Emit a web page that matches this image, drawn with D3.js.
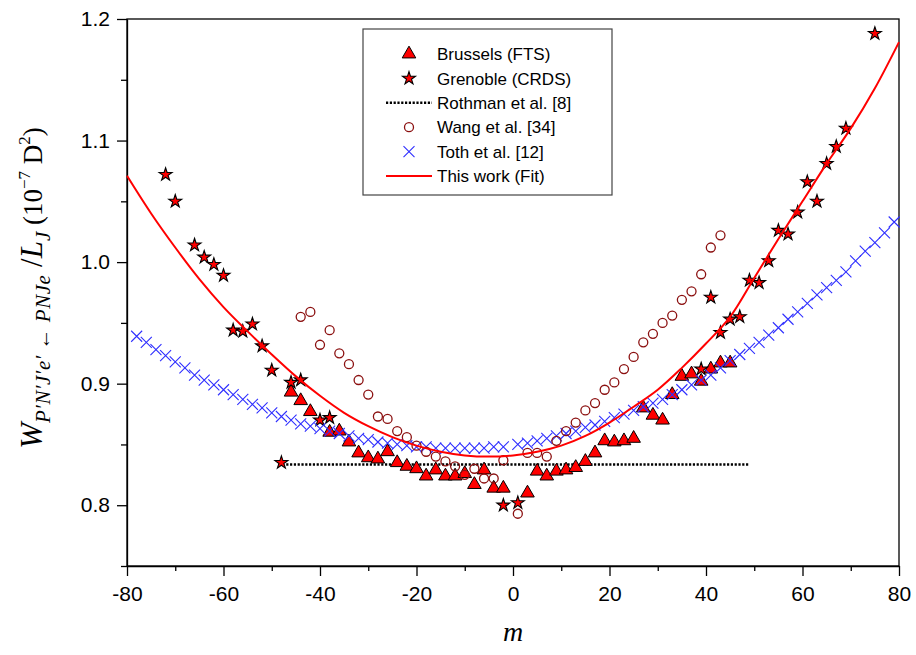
<!DOCTYPE html>
<html>
<head>
<meta charset="utf-8">
<script src="https://cdn.jsdelivr.net/npm/d3@7"></script>
<style>
  body { margin: 0; background: #fff; }
  .tick text { font-family: "Liberation Sans", Arial, sans-serif; font-size: 21px; fill: #000; }
  .domain, .tick line { stroke: #000; stroke-width: 1.3px; }
  .legend text { font-family: "Liberation Sans", Arial, sans-serif; font-size: 17px; }
</style>
</head>
<body>
<svg id="chart" width="916" height="655"></svg>
<script>
// Brussels (FTS)
var brusselsM = [-46,-44,-42,-38,-36,-34,-32,-30,-28,-26,-24,-22,-20,-18,-16,-14,-12,-10,-8,-6,-4,-2,
  3,5,7,9,11,13,15,17,19,21,23,25,27,29,31,33,35,37,39,41,43,45];
var brusselsW = [0.893,0.886,0.877,0.860,0.861,0.852,0.843,0.839,0.838,0.844,0.835,0.832,0.830,0.824,0.829,0.824,0.824,0.826,0.817,0.829,0.814,0.814,
  0.810,0.828,0.824,0.828,0.829,0.831,0.836,0.843,0.853,0.852,0.853,0.855,0.880,0.874,0.870,0.891,0.906,0.908,0.902,0.912,0.917,0.917];

// Grenoble (CRDS)
var grenobleM = [-72,-70,-66,-64,-62,-60,-58,-56,-54,-52,-50,-48,-46,-44,-40,-38,-2,1,
  39,41,43,45,47,49,51,53,55,57,59,61,63,65,67,69,75];
var grenobleW = [1.072,1.050,1.014,1.004,0.998,0.989,0.944,0.943,0.949,0.931,0.911,0.835,0.901,0.903,0.870,0.872,0.800,0.802,
  0.912,0.971,0.942,0.953,0.955,0.985,0.983,1.001,1.026,1.023,1.041,1.066,1.050,1.081,1.095,1.110,1.188];

// Rothman et al. [8]
var rothmanM = [-47, 49];
var rothmanW = [0.8335, 0.8335];

// Wang et al. [34]
var wangM = [-44,-42,-40,-38,-36,-34,-32,-30,-28,-26,-24,-22,-20,-18,-16,-14,-12,-10,-8,-6,-4,-2,1,
  3,5,7,9,11,13,15,17,19,21,23,25,27,29,31,33,35,37,39,41,43];
var wangW = [0.955,0.959,0.932,0.944,0.925,0.916,0.903,0.891,0.873,0.871,0.861,0.856,0.849,0.844,0.840,0.836,0.832,0.825,0.830,0.822,0.822,0.837,0.793,
  0.843,0.843,0.840,0.853,0.861,0.868,0.878,0.884,0.895,0.901,0.912,0.922,0.934,0.941,0.950,0.956,0.969,0.976,0.990,1.012,1.022];

// Toth et al. [12]
var tothM = [-78,-76,-74,-72,-70,-68,-66,-64,-62,-60,-58,-56,-54,-52,-50,-48,-46,-44,-42,-40,
  -38,-36,-34,-32,-30,-28,-26,-24,-22,-20,-18,-16,-14,-12,-10,-8,-6,-4,-2,
  1,3,5,7,9,11,13,15,17,19,21,23,25,27,29,31,33,35,37,39,
  41,43,45,47,49,51,53,55,57,59,61,63,65,67,69,71,73,75,77,79];
var tothW = [0.939,0.934,0.928,0.923,0.918,0.913,0.907,0.903,0.899,0.895,0.891,0.887,0.883,0.880,0.876,0.873,0.870,0.867,0.865,0.863,
  0.861,0.859,0.857,0.855,0.854,0.852,0.851,0.850,0.849,0.848,0.848,0.847,0.847,0.847,0.847,0.847,0.847,0.848,0.848,
  0.850,0.851,0.853,0.855,0.857,0.859,0.861,0.864,0.866,0.869,0.872,0.875,0.878,0.881,0.884,0.887,0.891,0.895,0.899,0.903,
  0.907,0.913,0.919,0.924,0.929,0.934,0.940,0.946,0.953,0.959,0.966,0.973,0.979,0.985,0.992,1.001,1.009,1.016,1.024,1.033];

// This work (Fit)
var fitM = [-80,-75,-70,-65,-60,-55,-50,-45,-40,-35,-30,-25,-20,-15,-10,-5,0,5,10,15,20,25,30,35,40,45,50,55,60,65,70,75,80];
var fitW = [1.071,1.040,1.012,0.986,0.963,0.943,0.924,0.906,0.890,0.876,0.865,0.856,0.849,0.844,0.841,0.840,0.841,0.844,0.849,0.857,0.868,0.881,0.895,0.913,0.933,0.955,0.987,1.019,1.050,1.081,1.110,1.143,1.181];

var xTicks = [-80,-60,-40,-20,0,20,40,60,80];
var yTicks = [0.8,0.9,1.0,1.1,1.2];

var legendNames = ["Brussels (FTS)","Grenoble (CRDS)","Rothman et al. [8]","Wang et al. [34]","Toth et al. [12]","This work (Fit)"];

var svg = d3.select("#chart");
var plotL = 127, plotR = 899, plotT = 19, plotB = 566;

var x = d3.scaleLinear().domain([-80, 80]).range([plotL, plotR]);
var y = d3.scaleLinear().domain([0.75, 1.2]).range([plotB, plotT]);

function zip(a, b){ return a.map(function(d,i){ return [d, b[i]]; }); }

var redFill = "#ff0000";
var tothBlue = "#2f2fff";
var wangRed = "#8b1010";
var triangle = d3.symbol().type(d3.symbolTriangle).size(80);
var star = d3.symbol().type(d3.symbolStar).size(52);
var crossPath = "M-5.5,-5.5L5.5,5.5M-5.5,5.5L5.5,-5.5";

// frame
svg.append("rect").attr("x", plotL).attr("y", plotT)
  .attr("width", plotR-plotL).attr("height", plotB-plotT)
  .attr("fill", "none").attr("stroke", "#000").attr("stroke-width", 1.3);

// axes
svg.append("g").attr("transform", "translate(0,"+plotB+")")
  .call(d3.axisBottom(x).tickValues(d3.range(-70, 80, 20)).tickSize(5).tickFormat(""))
  .call(function(g){ g.select(".domain").remove(); });
svg.append("g").attr("transform", "translate(0,"+plotB+")")
  .call(d3.axisBottom(x).tickValues(xTicks).tickSize(10).tickPadding(10).tickSizeOuter(0)
    .tickFormat(function(d){ return String(d); }));
svg.append("g").attr("transform", "translate("+plotL+",0)")
  .call(d3.axisLeft(y).tickValues([0.75,0.85,0.95,1.05,1.15]).tickSize(6).tickFormat(""))
  .call(function(g){ g.select(".domain").remove(); });
svg.append("g").attr("transform", "translate("+plotL+",0)")
  .call(d3.axisLeft(y).tickValues(yTicks).tickSize(10).tickPadding(7).tickSizeOuter(0)
    .tickFormat(function(d){ return d.toFixed(1); }));

// Rothman dotted line
var line = d3.line().x(function(d){ return x(d[0]); }).y(function(d){ return y(d[1]); });
svg.append("path").datum(zip(rothmanM, rothmanW))
  .attr("d", line).attr("fill", "none").attr("stroke", "#000")
  .attr("stroke-width", 2.4).attr("stroke-dasharray", "2.2,1.6");

// Brussels triangles
svg.append("g").selectAll("path").data(zip(brusselsM, brusselsW)).enter()
  .append("path").attr("d", triangle)
  .attr("transform", function(d){ return "translate("+x(d[0])+","+y(d[1])+")"; })
  .attr("fill", redFill).attr("stroke", "#000").attr("stroke-width", 1);

// Grenoble stars
svg.append("g").selectAll("path").data(zip(grenobleM, grenobleW)).enter()
  .append("path").attr("d", star)
  .attr("transform", function(d){ return "translate("+x(d[0])+","+y(d[1])+")"; })
  .attr("fill", redFill).attr("stroke", "#000").attr("stroke-width", 1.1);

// Toth crosses
svg.append("g").selectAll("path").data(zip(tothM, tothW)).enter()
  .append("path").attr("d", crossPath)
  .attr("transform", function(d){ return "translate("+x(d[0])+","+y(d[1])+")"; })
  .attr("fill", "none").attr("stroke", tothBlue).attr("stroke-width", 1.1);

// Wang circles
svg.append("g").selectAll("circle").data(zip(wangM, wangW)).enter()
  .append("circle").attr("cx", function(d){ return x(d[0]); }).attr("cy", function(d){ return y(d[1]); })
  .attr("r", 4.5).attr("fill", "none").attr("stroke", wangRed).attr("stroke-width", 1.3);

// fit curve
svg.append("path").datum(zip(fitM, fitW))
  .attr("d", line.curve(d3.curveCatmullRom)).attr("fill", "none")
  .attr("stroke", "#ff0000").attr("stroke-width", 2);

// legend
var lg = svg.append("g").attr("class", "legend");
lg.append("rect").attr("x", 363).attr("y", 29).attr("width", 249).attr("height", 166)
  .attr("fill", "#fff").attr("stroke", "#444").attr("stroke-width", 1.2);
legendNames.forEach(function(name, i){
  var cy = 54 + i*24.4;
  var row = lg.append("g");
  if (i === 0) row.append("path").attr("d", triangle).attr("transform", "translate(409,"+cy+")")
    .attr("fill", redFill).attr("stroke", "#000");
  if (i === 1) row.append("path").attr("d", star).attr("transform", "translate(409,"+cy+")")
    .attr("fill", redFill).attr("stroke", "#000").attr("stroke-width", 1.1);
  if (i === 2) row.append("line").attr("x1", 386).attr("x2", 432).attr("y1", cy).attr("y2", cy)
    .attr("stroke", "#000").attr("stroke-width", 2.4).attr("stroke-dasharray", "2.2,1.6");
  if (i === 3) row.append("circle").attr("cx", 409).attr("cy", cy).attr("r", 4.5)
    .attr("fill", "none").attr("stroke", wangRed).attr("stroke-width", 1.3);
  if (i === 4) row.append("path").attr("d", crossPath).attr("transform", "translate(409,"+cy+")")
    .attr("fill", "none").attr("stroke", tothBlue).attr("stroke-width", 1.1);
  if (i === 5) row.append("line").attr("x1", 386).attr("x2", 432).attr("y1", cy).attr("y2", cy)
    .attr("stroke", "#ff0000").attr("stroke-width", 2);
  row.append("text").attr("x", 437).attr("y", cy).attr("dy", "0.36em").text(name);
});

// axis titles
svg.append("text").attr("x", 513).attr("y", 641)
  .attr("text-anchor", "middle")
  .style("font-family", "'Liberation Serif', 'DejaVu Serif', serif")
  .style("font-style", "italic").style("font-size", "28px").text("m");

var yl = svg.append("text")
  .attr("transform", "translate(42,288) rotate(-90)")
  .attr("text-anchor", "middle")
  .style("font-family", "'Liberation Serif', 'DejaVu Serif', serif")
  .style("font-size", "31px");
yl.append("tspan").style("font-style", "italic").text("W");
yl.append("tspan").style("font-style", "italic").style("font-size", "21px").attr("dy", 8)
  .style("letter-spacing", "0.5px").text("P\u2032N\u2032J\u2032e\u2032 \u2190 PNJe");
yl.append("tspan").attr("dy", -8).text(" /");
yl.append("tspan").style("font-style", "italic").text("L");
yl.append("tspan").style("font-style", "italic").style("font-size", "21px").attr("dy", 8).text("J");
yl.append("tspan").style("font-size", "27px").attr("dy", -8).text(" (10");
yl.append("tspan").style("font-size", "17px").attr("dy", -12).text("\u22127");
yl.append("tspan").style("font-size", "27px").attr("dy", 12).text(" D");
yl.append("tspan").style("font-size", "17px").attr("dy", -12).text("2");
yl.append("tspan").style("font-size", "27px").attr("dy", 12).text(")");
</script>
</body>
</html>
